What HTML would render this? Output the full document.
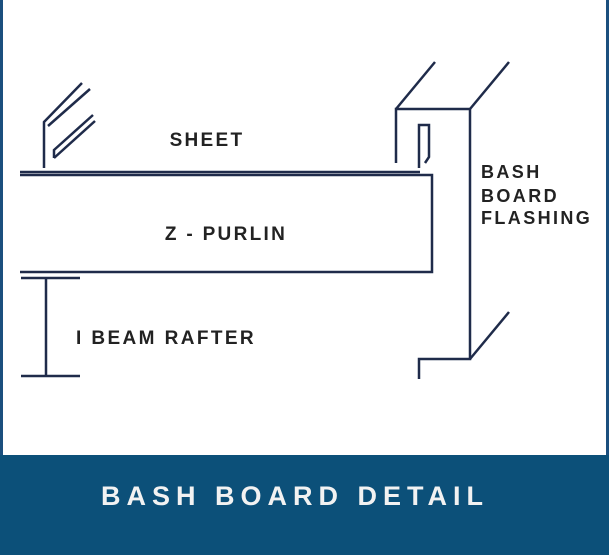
<!DOCTYPE html>
<html><head><style>
html,body{margin:0;padding:0;background:#fff;}
svg{display:block;}
text{font-family:"Liberation Sans",sans-serif;font-weight:bold;fill:#222;}
</style></head><body>
<svg width="609" height="555" viewBox="0 0 609 555" xmlns="http://www.w3.org/2000/svg">
<rect x="0" y="0" width="609" height="555" fill="#fff"/>
<rect x="0" y="0" width="3" height="555" fill="#1b4f7e"/>
<rect x="606" y="0" width="3" height="555" fill="#1b4f7e"/>
<rect x="0" y="455" width="609" height="100" fill="#0c5079"/>
<g fill="none" stroke="#1f2b4a" stroke-width="2.5" stroke-linejoin="miter">
<line x1="20" y1="172" x2="420" y2="172"/>
<polyline points="20,175 432,175 432,272 20,272"/>
<line x1="21" y1="278" x2="80" y2="278"/>
<line x1="46" y1="278" x2="46" y2="376"/>
<line x1="21" y1="376" x2="80" y2="376"/>
<polyline points="44,168 44,122 82,83"/>
<line x1="48" y1="126" x2="90" y2="89"/>
<polyline points="54,158 54,150 93,115"/>
<line x1="54" y1="158" x2="95" y2="121"/>
<polyline points="396,163 396,109 470,109 470,359 419,359 419,379"/>
<line x1="396" y1="109" x2="435" y2="62"/>
<line x1="470" y1="109" x2="509" y2="62"/>
<line x1="470" y1="359" x2="509" y2="312"/>
<polyline points="419,168 419,125 429,125 429,157 425,163"/>
</g>
<text x="207" y="146" font-size="19" text-anchor="middle" letter-spacing="2.3">SHEET</text>
<text x="226" y="240" font-size="19" text-anchor="middle" letter-spacing="2.3">Z - PURLIN</text>
<text x="76" y="344" font-size="19" letter-spacing="2.4">I BEAM RAFTER</text>
<text x="481" y="178" font-size="18" letter-spacing="2.4">BASH</text>
<text x="481" y="202" font-size="18" letter-spacing="2.4">BOARD</text>
<text x="481" y="224" font-size="18" letter-spacing="2.4">FLASHING</text>
<text x="295" y="505" font-size="27" text-anchor="middle" letter-spacing="6" style="fill:#f2f2f2">BASH BOARD DETAIL</text>
</svg>
</body></html>
